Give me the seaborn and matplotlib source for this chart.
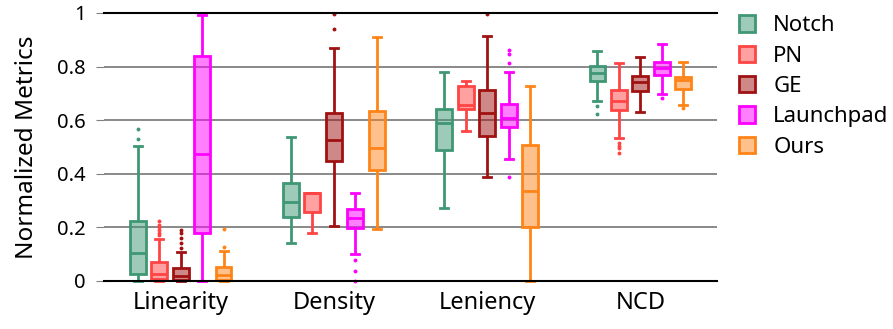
import matplotlib
matplotlib.use("Agg")
import matplotlib.pyplot as plt
import matplotlib.patches as mpatches
import matplotlib.colors as mcolors
import seaborn as sns
import pandas as pd

categories = ['Linearity', 'Density', 'Leniency', 'NCD']
methods = ['Notch', 'PN', 'GE', 'Launchpad', 'Ours']
colors = {'Notch': '#3f9774', 'PN': '#ff4444', 'GE': '#a01212',
          'Launchpad': '#ff00ff', 'Ours': '#ff8418'}

# lower whisker, q1, median, q3, upper whisker (one tuple per category)
notch_box = [(0.0, 0.026, 0.103, 0.224, 0.504), (0.143, 0.240, 0.296, 0.366, 0.536),
             (0.271, 0.490, 0.591, 0.643, 0.779), (0.673, 0.748, 0.776, 0.803, 0.858)]
pn_box = [(0.0, 0.008, 0.026, 0.072, 0.157), (0.178, 0.256, 0.330, 0.330, 0.330),
          (0.559, 0.643, 0.657, 0.728, 0.745), (0.534, 0.638, 0.673, 0.713, 0.815)]
ge_box = [(0.0, 0.004, 0.019, 0.049, 0.108), (0.206, 0.448, 0.526, 0.627, 0.869),
          (0.389, 0.540, 0.626, 0.712, 0.914), (0.629, 0.710, 0.741, 0.766, 0.837)]
launchpad_box = [(0.0, 0.178, 0.473, 0.840, 0.991), (0.101, 0.199, 0.236, 0.267, 0.328),
                 (0.456, 0.575, 0.609, 0.660, 0.779), (0.697, 0.767, 0.795, 0.817, 0.884)]
ours_box = [(0.0, 0.004, 0.022, 0.051, 0.113), (0.193, 0.413, 0.497, 0.634, 0.912),
            (0.0, 0.201, 0.337, 0.507, 0.728), (0.657, 0.716, 0.750, 0.762, 0.818)]

# outliers per category
notch_out = [[0.529, 0.568], [], [], [0.654, 0.623]]
pn_out = [[0.170, 0.180, 0.190, 0.200, 0.210, 0.223], [], [], [0.515, 0.505, 0.495, 0.479]]
ge_out = [[0.122, 0.141, 0.159, 0.178, 0.190], [0.940, 0.998], [0.998], []]
launchpad_out = [[], [0.078, 0.037, 0.0], [0.812, 0.846, 0.862, 0.388], [0.682]]
ours_out = [[0.128, 0.194], [], [], [0.644]]

box_stats = {'Notch': notch_box, 'PN': pn_box, 'GE': ge_box,
             'Launchpad': launchpad_box, 'Ours': ours_box}
outliers = {'Notch': notch_out, 'PN': pn_out, 'GE': ge_out,
            'Launchpad': launchpad_out, 'Ours': ours_out}

# rebuild samples that give the same quartiles/whiskers
rows = []
for m in methods:
    for cat, (lo, q1, med, q3, hi), extra in zip(categories, box_stats[m], outliers[m]):
        vals = [lo] + [q1] * 20 + [med] * 20 + [q3] * 20 + [hi] + extra
        rows += [(cat, m, v) for v in vals]
df = pd.DataFrame(rows, columns=['metric', 'method', 'value'])

plt.rcParams['font.family'] = ['Noto Sans', 'DejaVu Sans']

fig = plt.figure(figsize=(8.93, 3.29), dpi=100)
ax = fig.add_axes([104 / 893, 1 - 281 / 329, 613 / 893, 268 / 329])

sns.boxplot(data=df, x='metric', y='value', hue='method', order=categories,
            hue_order=methods, palette=colors, saturation=1, width=0.7, gap=0.26,
            linewidth=2, fliersize=2.8, legend=False, ax=ax,
            flierprops=dict(marker='o', markeredgewidth=0))

for m, cont in zip(methods, ax.containers):
    c = colors[m]
    for b in cont.boxes:
        b.set_facecolor(mcolors.to_rgba(c, 0.5))
        b.set_edgecolor(c)
        b.set_clip_on(False)
    for ln in list(cont.medians) + list(cont.whiskers) + list(cont.caps):
        ln.set_color(c)
        ln.set_clip_on(False)
    for ln in cont.fliers:
        ln.set_markerfacecolor(c)
        ln.set_markeredgecolor(c)
        ln.set_clip_on(False)

ax.set_xlim(-0.5, 3.5)
ax.set_ylim(0, 1)
ax.set_yticks([0, 0.2, 0.4, 0.6, 0.8, 1])
ax.set_yticklabels(['0', '0.2', '0.4', '0.6', '0.8', '1'])
ax.set_axisbelow(True)
ax.yaxis.grid(True, color='#808080', linewidth=1.3)
for s in ['left', 'right']:
    ax.spines[s].set_visible(False)
for s in ['top', 'bottom']:
    ax.spines[s].set_color('black')
    ax.spines[s].set_linewidth(1.5)
ax.tick_params(axis='y', length=6, color='#808080', labelsize=14.5, pad=7)
ax.tick_params(axis='x', length=0, labelsize=17, pad=7)
ax.set_xlabel('')
ax.set_ylabel('Normalized Metrics', fontsize=17.5, labelpad=13)

handles = [mpatches.Patch(facecolor=mcolors.to_rgba(colors[m], 0.5), edgecolor=colors[m],
                          linewidth=2, label=m) for m in methods]
ax.legend(handles=handles, loc='upper left', bbox_to_anchor=(1.021, 1.025), frameon=False,
          fontsize=16, handlelength=0.75, handleheight=0.75, labelspacing=0.42,
          handletextpad=0.8, borderaxespad=0)

fig.savefig('out.png', dpi=100)
